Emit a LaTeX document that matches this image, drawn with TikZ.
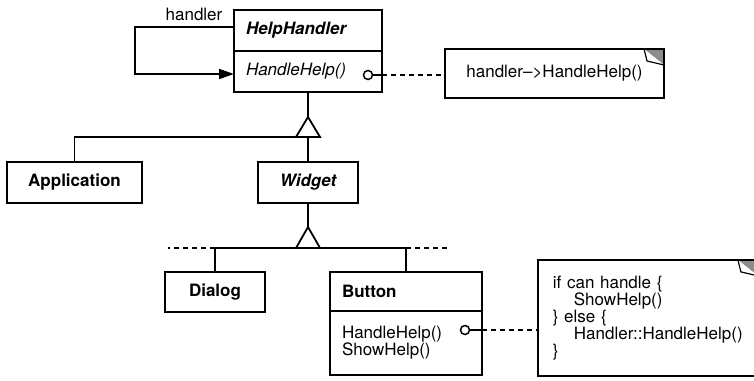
\documentclass[tikz,border=0pt]{standalone}
\usepackage{fontspec}
\setmainfont{TeX Gyre Heros}
\usetikzlibrary{arrows.meta, calc}
\definecolor{chatch}{HTML}{8C8C8C}
\tikzset{
  every picture/.style={line width=1.8pt, x=1pt, y=-1pt, font=\fontsize{17}{17}\selectfont},
  box/.style={draw, fill=white, minimum width=#1, minimum height=41pt, inner sep=0pt, outer sep=0pt},
  lbox/.style={draw, fill=white, text width=#1, inner xsep=12pt, inner ysep=0pt, outer sep=0pt, minimum height=41pt, align=left},
  note/.style={draw, fill=white, inner sep=0pt,
    path picture={
      \fill[chatch] ([xshift=-20pt]path picture bounding box.north east) -- (path picture bounding box.north east) -- ([yshift=-16pt]path picture bounding box.north east) -- cycle;
      \draw[fill=white, line width=1.2pt] ([xshift=-20pt]path picture bounding box.north east) -- ([xshift=-17pt, yshift=-12pt]path picture bounding box.north east) -- ([yshift=-16pt]path picture bounding box.north east);
    }},
  assoc/.style={-{Triangle[length=15pt, width=10pt]}},
  gen/.style={fill=white, line join=miter},
  lol/.style={circle, draw, fill=white, minimum size=9pt, inner sep=0pt, line width=1.5pt},
  dashline/.style={line width=1.5pt, dash pattern=on 5pt off 4pt},
}
\begin{document}
\begin{tikzpicture}
  \useasboundingbox (0,0) rectangle (754,380);
  % handler hierarchy
  \node[lbox=124pt] (hh) at (308,30.5) {\bfseries\itshape HelpHandler};
  \node[lbox=124pt, anchor=north] (hm) at (hh.south) {\itshape HandleHelp()};
  \node (hlab) at (194,14) {handler};
  \draw[assoc] ([yshift=3.5pt]hh.west) -- ++(-99,0) |- ([yshift=-2.5pt]hm.west);
  \node[box=135pt] (app) at (74.5,182.5) {\bfseries Application};
  \node[box=100pt] (wid) at (308,182.5) {\bfseries\itshape Widget};
  \node[box=100pt, minimum height=40pt] (dlg) at (215,292) {\bfseries Dialog};
  \node[lbox=128pt, minimum height=39pt] (btn) at (406,291.5) {\bfseries Button};
  \node[lbox=128pt, minimum height=64pt, anchor=north] (bm) at (btn.south) {HandleHelp()\\ShowHelp()};
  % generalisation
  \coordinate (g1) at (308,137);
  \draw (hm.south) -- ($(g1)+(0,-20)$);
  \draw (app.north) |- (g1);
  \draw (wid.north) -- (g1);
  \draw[gen] ($(g1)+(-12,0)$) -- ($(g1)+(12,0)$) -- ($(g1)+(0,-20)$) -- cycle;
  \coordinate (g2) at (308,248);
  \draw (wid.south) -- ($(g2)+(0,-21)$);
  \draw (dlg.north) |- (g2);
  \draw (btn.north) |- (g2);
  \draw[dashline] (dlg.north |- g2) -- ++(-47,0);
  \draw[dashline] (btn.north |- g2) -- ++(41,0);
  \draw[gen] ($(g2)+(-12,0)$) -- ($(g2)+(12,0)$) -- ($(g2)+(0,-21)$) -- cycle;
  % notes
  \node[note, minimum width=219pt, minimum height=49pt] (n1) at (554.5,73.5) {handler\textendash>HandleHelp()};
  \node[note, anchor=north west, text width=190pt, inner xsep=15pt, minimum height=116pt, align=left] (n2) at (537,259)
    {if can handle \{\\\hspace*{21pt}ShowHelp()\\\} else \{\\\hspace*{21pt}Handler::HandleHelp()\\\}};
  \node[lol] (c1) at (368,75) {};
  \draw (c1) -- (c1 -| hm.east);
  \draw[dashline] (c1 -| hm.east) -- (c1 -| n1.west);
  \node[lol] (c2) at (465,330) {};
  \draw (c2) -- (c2 -| bm.east);
  \draw[dashline] (c2 -| bm.east) -- (c2 -| n2.west);
\end{tikzpicture}
\end{document}
